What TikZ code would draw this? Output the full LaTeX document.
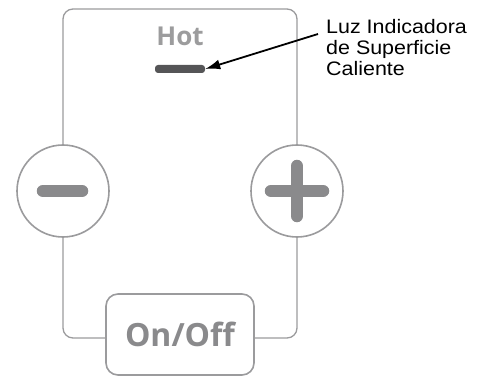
\documentclass[tikz,border=0pt]{standalone}
\usepackage{fontspec}
\setmainfont{Liberation Sans}[FakeStretch=1.1]
\newfontfamily\panelfont{Open Sans}
\usetikzlibrary{arrows.meta, positioning}

\definecolor{panelgray}{HTML}{9B9B9D}
\definecolor{keygray}{HTML}{8A8A8C}
\definecolor{lightgray}{HTML}{555557}

\begin{document}
\begin{tikzpicture}[x=1pt, y=1pt,
    keyring/.style={draw=panelgray, line width=1.6pt, circle, fill=white, minimum size=92pt, inner sep=0pt},
    keybar/.style={line width=12.5pt, line cap=round, keygray}]
    \useasboundingbox (0,0) rectangle (484,378);

    % Marco del panel
    \draw[panelgray, line width=1.3pt, rounded corners=10pt] (63,40) rectangle (297,369);

    % Teclas menos y mas
    \node (minus) [keyring] at (63,187) {};
    \node (plus) [keyring] at (297,187) {};
    \draw[keybar] ([xshift=-20pt]minus.center) -- ([xshift=19pt]minus.center);
    \draw[keybar] ([xshift=-26pt]plus.center) -- ([xshift=26pt]plus.center);
    \draw[keybar] ([yshift=-25pt]plus.center) -- ([yshift=25pt]plus.center);

    % Boton de encendido
    \node (onoff) [draw=panelgray, line width=1.6pt, rounded corners=12pt, fill=white,
        minimum width=148pt, minimum height=81pt, inner sep=0pt,
        font=\panelfont\bfseries\fontsize{32}{36}\selectfont, text=keygray] at (180,43.5) {On/Off};

    % Indicador de superficie caliente
    \node (hot) [font=\panelfont\bfseries\fontsize{26}{30}\selectfont, text=keygray!85] at (180,342) {Hot};
    \node (light) [fill=lightgray, rounded corners=3pt, minimum width=50pt, minimum height=8pt, inner sep=0pt] at (180,309) {};

    % Etiqueta
    \node (lbl) [anchor=north west, inner sep=0pt, align=left,
        font=\fontsize{19.5}{21}\selectfont] at (326,359) {Luz Indicadora\\de Superficie\\Caliente};
    \draw[-{Latex[length=15pt,width=10pt]}, line width=1.8pt] ([xshift=-8pt,yshift=-15pt]lbl.north west) -- (light.east);
\end{tikzpicture}
\end{document}
